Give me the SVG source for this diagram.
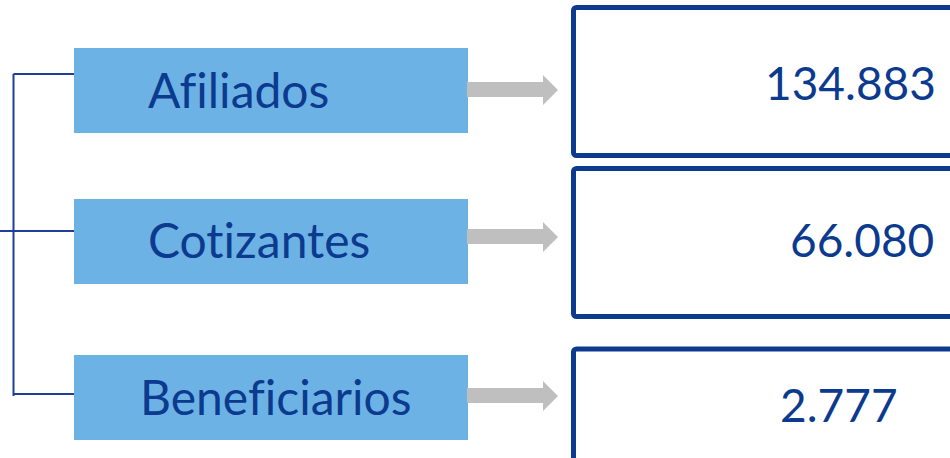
<svg xmlns="http://www.w3.org/2000/svg" width="950" height="458" viewBox="0 0 950 458">
<defs>
<style>
.lbl{fill:#6cb2e5}
.val{fill:#fff;stroke:#0b3a8e;stroke-width:5}
.t{font-family:Lato,"Open Sans",sans-serif;font-size:46px;fill:#0b3a8e;font-variant-ligatures:none}
.tl{font-size:48px}
.arr{fill:#bfbfbf}
.con{stroke:#1f3f99;stroke-width:2;fill:none}
</style>
</defs>
<g id="connectors">
<path class="con" d="M13.5 74V396M13.5 74H74M0 231H74M13.5 394H74"/>
</g>
<g id="n-afiliados">
<rect class="lbl" x="74" y="48" width="394" height="85"/>
<text class="t tl" x="148" y="108">Afiliados</text>
</g>
<g id="n-cotizantes">
<rect class="lbl" x="74" y="199" width="394" height="85"/>
<text class="t tl" x="148" y="258">Cotizantes</text>
</g>
<g id="n-beneficiarios">
<rect class="lbl" x="74" y="355" width="394" height="85"/>
<text class="t tl" x="140" y="415">Beneficiarios</text>
</g>
<g id="arrows" class="arr">
<path d="M467 82H543V75L558 90L543 105V97H467Z"/>
<path d="M467 229H543V222L558 237L543 252V244H467Z"/>
<path d="M467 388H543V381L558 396L543 411V403H467Z"/>
</g>
<g id="v-afiliados">
<rect class="val" x="573.5" y="7.5" width="400" height="148" rx="3"/>
<text class="t" x="765" y="100">134.883</text>
</g>
<g id="v-cotizantes">
<rect class="val" x="573.5" y="168.5" width="400" height="148" rx="3"/>
<text class="t" x="790" y="257">66.080</text>
</g>
<g id="v-beneficiarios">
<rect class="val" x="573.5" y="349" width="400" height="148" rx="3"/>
<text class="t" x="780" y="422">2.777</text>
</g>
</svg>
